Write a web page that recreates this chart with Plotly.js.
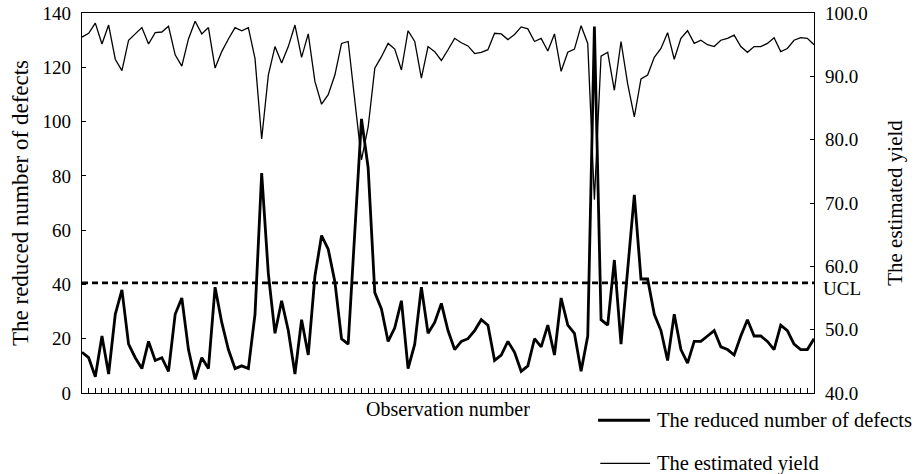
<!DOCTYPE html>
<html>
<head>
<meta charset="utf-8">
<script src="https://cdn.plot.ly/plotly-3.0.1.min.js"></script>
<style>html,body{margin:0;padding:0;background:#fff;}#chart{width:915px;height:474px;}</style>
</head>
<body>
<div id="chart"></div>
<script>
// Reduced number of defects per observation
const defects = [15,13,6,21,7,29,38,18,13,9,19,12,13,8,29,35,16,5,13,9,
  39,26,16,9,10,9,29,81,44,22,34,23,7,27,14,43,58,53,41,20,
  18,60,101,83,37,31,19,24,34,9,18,39,22,26,33,23,16,19,20,23,
  27,25,12,14,19,15,8,10,20,17,25,14,35,25,22,8,21,135,27,25,
  49,18,46,73,42,42,29,23,12,29,16,11,19,19,21,23,17,16,14,21,
  27,21,21,19,16,25,23,18,16,16,20];
// Estimated yield per observation
const yieldEst = [96.2,96.8,98.4,95.1,98.1,92.7,90.9,95.7,96.7,97.7,95.1,96.9,97.0,97.9,93.4,91.6,95.9,98.7,96.7,97.7,
  91.3,93.9,95.9,97.7,97.2,97.7,92.8,80.1,90.2,94.7,92.1,94.7,98.1,93.0,96.7,89.2,85.6,87.1,90.2,95.2,
  95.5,86.3,76.8,82.0,91.3,93.1,95.2,94.3,91.0,97.2,95.5,89.7,94.7,93.9,92.5,94.2,96.0,95.3,94.8,93.6,
  93.8,94.2,96.8,96.7,95.8,96.6,97.8,97.5,95.5,96.0,94.0,96.7,90.8,93.8,94.3,98.0,95.2,70.5,93.2,93.8,
  87.8,95.5,88.8,83.6,89.6,90.2,93.0,94.4,96.9,92.7,96.0,97.2,95.2,95.7,95.0,94.7,95.7,96.0,96.5,94.7,
  93.8,94.7,94.7,95.2,96.1,93.9,94.4,95.7,96.1,96.0,95.0];
const ucl = 40.6;
const obs = defects.map((_, i) => i + 1);
const leftTicks = [0,20,40,60,80,100,120,140];
const rightTicks = [40,50,60,70,80,90,100];
const names = ["The reduced number of defects", "The estimated yield"];

const FONT = "'Liberation Serif', 'Times New Roman', Times, serif";

const traces = [
  {x: obs, y: defects, type: "scatter", mode: "lines", name: names[0],
   line: {color: "#000", width: 2.8}, yaxis: "y"},
  {x: obs, y: yieldEst, type: "scatter", mode: "lines", name: names[1],
   line: {color: "#000", width: 1.3}, yaxis: "y2"},
  {x: [obs[0], obs[obs.length-1]], y: [ucl, ucl], type: "scatter", mode: "lines", name: "UCL",
   line: {color: "#000", width: 2.8, dash: "6px,4px"}, yaxis: "y", showlegend: false}
];

const layout = {
  width: 915, height: 474,
  margin: {l: 82, r: 101, t: 13, b: 81, pad: 0},
  paper_bgcolor: "#fff", plot_bgcolor: "#fff",
  showlegend: false,
  font: {family: FONT, size: 19, color: "#000"},
  xaxis: {
    range: [obs[0], obs[obs.length-1]],
    tickmode: "array", tickvals: obs, showticklabels: false,
    ticks: "inside", ticklen: 5, tickwidth: 1, tickcolor: "#000",
    showline: true, linecolor: "#000", linewidth: 1.2, mirror: true,
    showgrid: false, zeroline: false,
    title: {text: "Observation number", font: {family: FONT, size: 20, color: "#000"}, standoff: 8}
  },
  yaxis: {
    range: [0, 140], tickmode: "array", tickvals: leftTicks,
    ticks: "inside", ticklen: 4, tickwidth: 1, tickcolor: "#000",
    showline: true, linecolor: "#000", linewidth: 1.2,
    showgrid: false, zeroline: false,
    tickfont: {family: FONT, size: 19, color: "#000"},
    ticklabelstandoff: 6,
    title: {text: "The reduced number of defects", font: {family: FONT, size: 23, color: "#000"}, standoff: 7}
  },
  yaxis2: {
    range: [40, 100], overlaying: "y", side: "right",
    tickmode: "array", tickvals: rightTicks, tickformat: ".1f",
    ticks: "inside", ticklen: 4, tickwidth: 1, tickcolor: "#000",
    showline: true, linecolor: "#000", linewidth: 1.2,
    showgrid: false, zeroline: false,
    tickfont: {family: FONT, size: 19, color: "#000"},
    ticklabelstandoff: 6,
    title: {text: "The estimated yield", font: {family: FONT, size: 21, color: "#000"}, standoff: 20}
  },
  shapes: [
    {type: "line", xref: "paper", yref: "paper", x0: 0.705, x1: 0.776, y0: -0.0717, y1: -0.0717,
     line: {color: "#000", width: 2.8}},
    {type: "line", xref: "paper", yref: "paper", x0: 0.708, x1: 0.776, y0: -0.185, y1: -0.185,
     line: {color: "#000", width: 1.3}}
  ],
  annotations: [
    {text: "UCL", xref: "paper", yref: "y", x: 1, y: ucl, xanchor: "left", yanchor: "middle",
     xshift: 7, yshift: -6, showarrow: false, font: {family: FONT, size: 19, color: "#000"}},
    {text: names[0], xref: "paper", yref: "paper", x: 0.783, y: -0.0717, xanchor: "left", yanchor: "middle",
     showarrow: false, font: {family: FONT, size: 20.5, color: "#000"}},
    {text: names[1], xref: "paper", yref: "paper", x: 0.783, y: -0.185, xanchor: "left", yanchor: "middle",
     showarrow: false, font: {family: FONT, size: 20.5, color: "#000"}}
  ]
};

Plotly.newPlot("chart", traces, layout, {staticPlot: true, displayModeBar: false});
</script>
</body>
</html>
